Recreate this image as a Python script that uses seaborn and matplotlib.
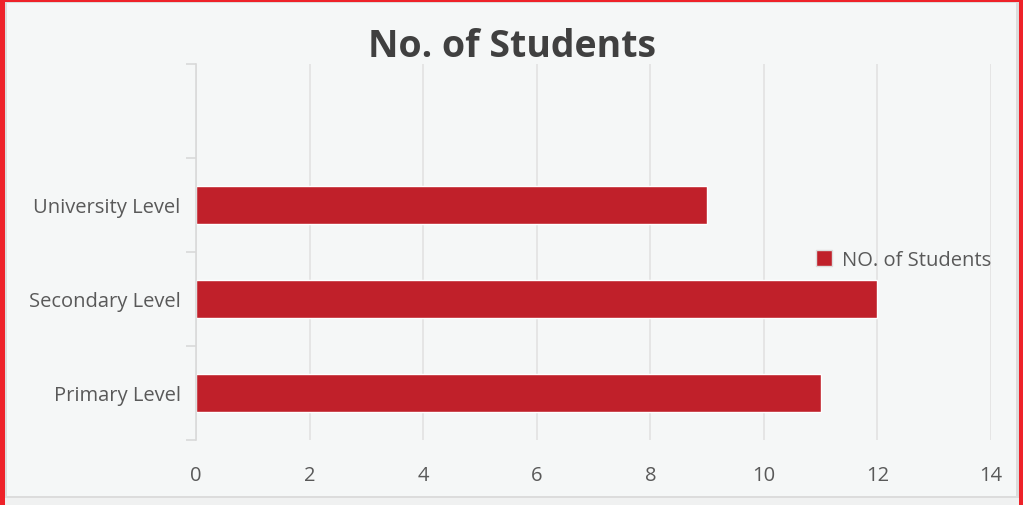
import matplotlib
matplotlib.use("Agg")
import matplotlib.pyplot as plt
from matplotlib.patches import Rectangle
import seaborn as sns
import pandas as pd

# Chart data
levels = ["University Level", "Secondary Level", "Primary Level"]
students = [9, 12, 11]
series_name = "NO. of Students"
x_ticks = [0, 2, 4, 6, 8, 10, 12, 14]

bar_color = "#c0202a"
bg_color = "#f5f7f7"
text_color = "#595959"

df = pd.DataFrame({"level": levels, "students": students})

sns.set_theme(style="white")
plt.rcParams["font.family"] = ["Open Sans", "DejaVu Sans"]

fig = plt.figure(figsize=(10.23, 5.06), dpi=100)
fig.patch.set_facecolor("#ee2229")

# Inner panel with gray edge, leaving red frame on left/top/right
fig.patches.append(Rectangle((5 / 1023, 0), 1014 / 1023, 503 / 506,
                             transform=fig.transFigure, facecolor="#f0f1f1",
                             edgecolor="none", zorder=-2))
fig.patches.append(Rectangle((5 / 1023, 7 / 506), 1014 / 1023, 496 / 506,
                             transform=fig.transFigure, facecolor="#dcdcdc",
                             edgecolor="none", zorder=-2))
fig.patches.append(Rectangle((7 / 1023, 9 / 506), 1009 / 1023, 493 / 506,
                             transform=fig.transFigure, facecolor=bg_color,
                             edgecolor="none", zorder=-1))

ax = fig.add_axes([196 / 1023, 65 / 506, 795 / 1023, 376 / 506])
ax.set_zorder(2)
ax.set_facecolor(bg_color)

sns.barplot(data=df, x="students", y="level", order=levels,
            color=bar_color, width=0.4, saturation=1, ax=ax)

# Leave an empty slot at the top as in the source chart
ax.set_ylim(2.5, -1.5)
ax.set_xlim(0, 14)
ax.set_xticks(x_ticks)

ax.grid(axis="x", color="#e2e2e2", linewidth=1.2)
ax.set_axisbelow(True)
for side in ["top", "right", "bottom"]:
    ax.spines[side].set_visible(False)
ax.spines["left"].set_color("#d9d9d9")
ax.spines["left"].set_linewidth(1.2)

ax.set_yticks([-1.5, -0.5, 0.5, 1.5, 2.5], minor=True)
ax.tick_params(axis="y", which="minor", length=7, width=1.2, color="#d9d9d9", left=True)
ax.tick_params(axis="y", which="major", length=0, pad=11, labelsize=14.5, labelcolor=text_color)
ax.tick_params(axis="x", length=0, pad=18, labelsize=14.5, labelcolor=text_color)

ax.set_xlabel("")
ax.set_ylabel("")

fig.text(0.5, 1 - 47 / 506, "No. of Students", ha="center", va="center",
         fontsize=27, fontweight="bold", color="#404040")

handle = Rectangle((0, 0), 1, 1, facecolor=bar_color, edgecolor="#dddddd")
fig.legend([handle], [series_name], loc="center left",
           bbox_to_anchor=(798 / 1023, 1 - 261 / 506), frameon=False,
           fontsize=14.5, labelcolor=text_color, handlelength=0.8,
           handleheight=0.8, handletextpad=0.5)

fig.savefig("out.png", dpi=100, facecolor=fig.get_facecolor())
